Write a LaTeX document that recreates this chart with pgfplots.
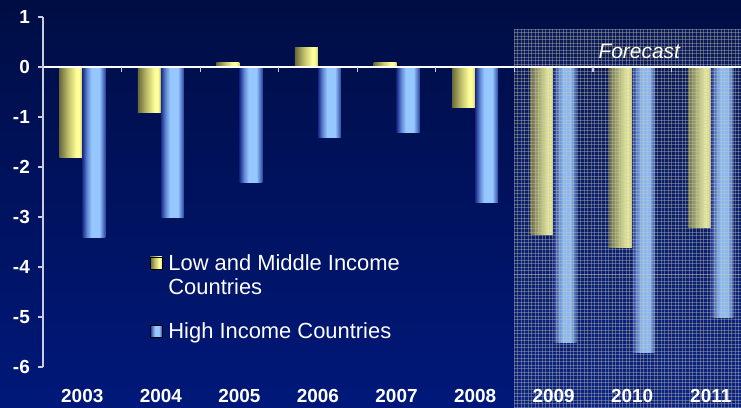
\documentclass[border=0pt]{standalone}
\usepackage{pgfplots}
\usepackage{pgfplotstable}
\pgfplotsset{compat=1.18}
\usepackage{fontspec}
\setmainfont{Liberation Sans}

\definecolor{bgtop}{RGB}{0,13,68}
\definecolor{bgbot}{RGB}{0,24,122}
\definecolor{axisgray}{RGB}{200,205,220}
\definecolor{gridline}{RGB}{205,205,170}
\definecolor{gridbase}{RGB}{70,95,185}

% yellow cylinder-like bar
\definecolor{yA}{RGB}{105,105,58}
\definecolor{yB}{RGB}{195,195,110}
\definecolor{yC}{RGB}{255,255,153}
\definecolor{yD}{RGB}{205,205,115}
% light blue cylinder-like bar
\definecolor{bA}{RGB}{25,40,135}
\definecolor{bB}{RGB}{95,135,210}
\definecolor{bC}{RGB}{150,200,255}
\definecolor{bD}{RGB}{45,70,160}

\pgfdeclarehorizontalshading{yellowbar}{100bp}{color(0bp)=(yA); color(25bp)=(yA); color(45bp)=(yB); color(62bp)=(yC); color(68bp)=(yC); color(75bp)=(yD); color(100bp)=(yD)}
\pgfdeclarehorizontalshading{bluebar}{100bp}{color(0bp)=(bA); color(25bp)=(bA); color(35bp)=(bB); color(45bp)=(bC); color(62bp)=(bC); color(75bp)=(bD); color(100bp)=(bD)}

% GDP growth, per cent: 2003-2011 (idx 0-8)
\pgfplotstableread{
idx lmic hic
0 -1.8 -3.4
1 -0.9 -3.0
2 0.1 -2.3
3 0.4 -1.4
4 0.1 -1.3
5 -0.8 -2.7
6 -3.35 -5.5
7 -3.6 -5.7
8 -3.2 -5.0
}\growth

\begin{document}
\begin{tikzpicture}
\useasboundingbox (0,0) rectangle (741bp,408bp);
\fill[top color=bgtop, bottom color=bgbot] (0,0) rectangle (741bp,408bp);
\begin{axis}[
  at={(43bp,41bp)}, anchor=south west,
  scale only axis, width=698bp, height=350bp,
  xmin=-0.5, xmax=8.385, ymin=-6, ymax=1,
  clip=false, axis on top,
  ybar=0pt, bar width=23bp,
  axis lines*=left,
  x axis line style={draw=none},
  y axis line style={draw=axisgray, line width=1.2bp},
  tick align=outside, major tick length=5bp,
  ytick={-6,-5,-4,-3,-2,-1,0,1},
  yticklabels={-6,-5,-4,-3,-2,-1,0,1},
  ytick style={draw=axisgray, line width=1.2bp},
  xtick={0,1,2,3,4,5,6,7,8},
  xticklabels={2003,2004,2005,2006,2007,2008,2009,2010,2011},
  major x tick style={draw=none},
  xticklabel style={anchor=base, yshift=-30bp, font=\fontsize{19}{21}\selectfont\bfseries, text=white},
  yticklabel style={anchor=east, inner sep=0pt, xshift=-8bp, font=\fontsize{19}{21}\selectfont\bfseries, text=white},
  legend style={at={(0.1487,0.33)}, anchor=north west, draw=none, fill=none,
    text=white, font=\fontsize{22}{24}\selectfont, row sep=51bp,
    nodes={inner sep=0pt},
    /tikz/every odd column/.style={column sep=6bp}},
  legend cell align=left,
]
% one plot per bar, so that each bar carries its own shading
\pgfplotsinvokeforeach{0,...,8}{
  \addplot[forget plot, draw=none, shade, shading=yellowbar, bar shift=-11.5bp,
    restrict x to domain=#1:#1]
    table[x=idx, y=lmic] {\growth};
  \addplot[forget plot, draw=none, shade, shading=bluebar, bar shift=11.5bp,
    restrict x to domain=#1:#1]
    table[x=idx, y=hic] {\growth};
}
\addlegendimage{legend image code/.code={\fill[shade, shading=yellowbar] (0bp,-6bp) rectangle (12bp,6bp);}}
\addlegendentry{\begin{tabular}[t]{@{}l@{}}Low and Middle Income\\Countries\end{tabular}}
\addlegendimage{legend image code/.code={\fill[shade, shading=bluebar] (0bp,-6bp) rectangle (12bp,6bp);}}
\addlegendentry{High Income Countries}

% forecast period: checked screen over 2009-2011
\fill[gridbase, fill opacity=0.15] (axis cs:5.5,0.76) rectangle (axis cs:8.386,-6.82);
\pgfplotsinvokeforeach{0,...,64}{
  \draw[gridline, line width=0.8bp, draw opacity=0.36]
    (axis cs:{5.5+#1*0.04456},0.76) -- (axis cs:{5.5+#1*0.04456},-6.82);
}
\pgfplotsinvokeforeach{0,...,108}{
  \draw[gridline, line width=0.8bp, draw opacity=0.36]
    (axis cs:5.5,{0.76-#1*0.07}) -- (axis cs:8.386,{0.76-#1*0.07});
}
\draw[gridline, opacity=0.3, line width=0.8bp] (axis cs:5.5,-4.14) -- (axis cs:8.386,-4.14);

% zero line with category separators
\draw[white, line width=1.3bp] (axis cs:-0.5,0) -- (axis cs:8.386,0);
\pgfplotsinvokeforeach{0.5,1.5,2.5,3.5,4.5,5.5,6.5,7.5}{
  \draw[axisgray, line width=1.2bp] (axis cs:#1,0) -- ++(0pt,-5bp);
}
\node[font=\fontsize{21}{24}\selectfont\itshape, text=white!92!yellow] at (axis cs:7.09,0.306) {Forecast};
\end{axis}
\end{tikzpicture}
\end{document}
